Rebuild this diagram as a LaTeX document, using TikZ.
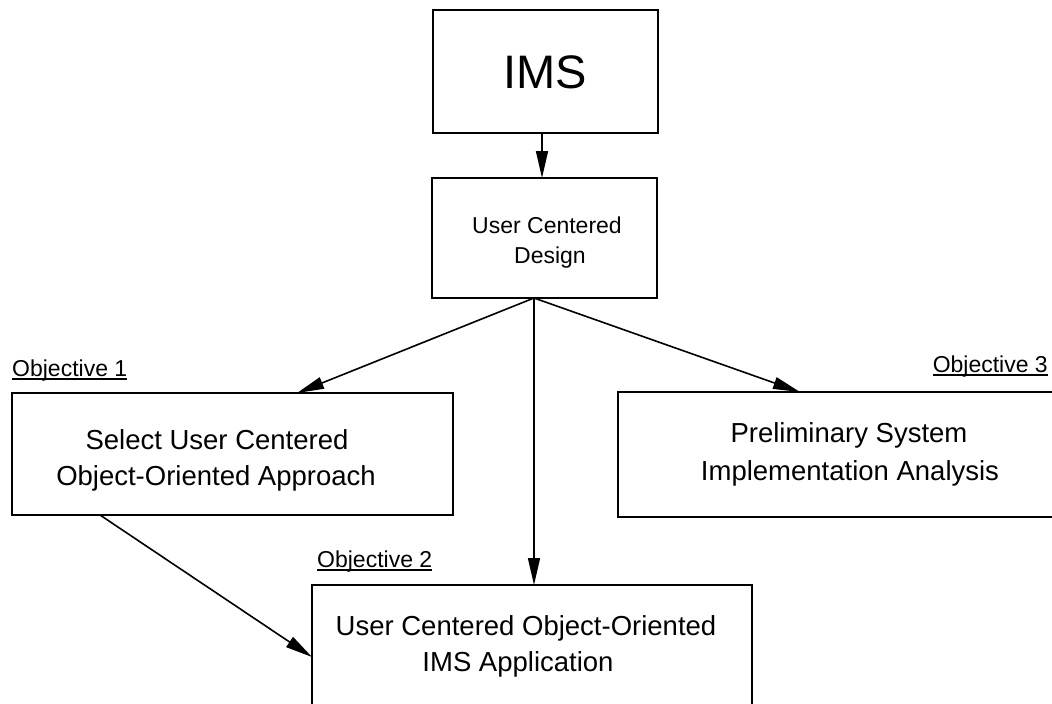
\documentclass[tikz,border=0pt]{standalone}
\usepackage{fontspec}
\setmainfont{Liberation Sans}
\usetikzlibrary{arrows.meta}
\begin{document}
\begin{tikzpicture}[x=1pt,y=-1pt,
  box/.style={draw, line width=2pt, rectangle, inner sep=0pt, outer sep=0pt, anchor=north west},
  txt/.style={anchor=base, inner sep=0pt, font=\fontsize{27.5}{33}\selectfont},
  lab/.style={anchor=base west, inner sep=0pt, font=\fontsize{23}{28}\selectfont},
  conn/.style={line width=1.6pt, -{Triangle[length=27pt,width=12pt]}},
  uline/.style={line width=1.4pt}]
\path[use as bounding box, clip] (0,0) rectangle (1052,704);
\fill[white] (0,0) rectangle (1052,704);

% top box
\node[box, minimum width=225pt, minimum height=123pt] (ims) at (433,10) {};
\node[txt, font=\fontsize{47}{56}\selectfont] (imst) at (545,88) {IMS};

% design box
\node[box, minimum width=225pt, minimum height=120pt] (ucd) at (432,178) {};
\node[txt, font=\fontsize{23}{28}\selectfont] (ucd1) at (547,233) {User Centered};
\node[txt, font=\fontsize{23}{28}\selectfont] (ucd2) at (550,263) {Design};

% objective 1
\node[box, minimum width=441pt, minimum height=122pt] (obj1) at (12,393) {};
\node[txt] (obj1a) at (217,449) {Select User Centered};
\node[txt] (obj1b) at (216,485) {Object-Oriented Approach};
\node[lab] (lab1) at (12,376) {Objective 1};

% objective 3
\node[box, minimum width=444pt, minimum height=125pt] (obj3) at (618,392) {};
\node[txt] (obj3a) at (849,442) {Preliminary System};
\node[txt] (obj3b) at (850,480) {Implementation Analysis};
\node[lab, anchor=base east] (lab3) at (1048,372) {Objective 3};

% objective 2
\node[box, minimum width=440pt, minimum height=135pt] (obj2) at (312,585) {};
\node[txt] (obj2a) at (526,635) {User Centered Object-Oriented};
\node[txt] (obj2b) at (518,671) {IMS Application};
\node[lab] (lab2) at (317,567) {Objective 2};

% underlines of the objective labels
\foreach \l in {lab1,lab2,lab3}
  \draw[uline] ([yshift=-3pt]\l.base west) -- ([yshift=-3pt]\l.base east);

% connectors
\draw[conn] ([xshift=-3.5pt]ims.south) -- ([xshift=-2.5pt]ucd.north);
\coordinate (fan) at ([xshift=-10.5pt]ucd.south);
\draw[conn] (fan) -- ([xshift=64.5pt]obj1.north);
\draw[conn] (fan) -- ([xshift=182pt]obj3.north west);
\draw[conn] (fan) -- ([xshift=222pt]obj2.north west);
\draw[conn] ([xshift=88pt]obj1.south west) -- ([yshift=-72pt]obj2.north west);
\end{tikzpicture}
\end{document}
